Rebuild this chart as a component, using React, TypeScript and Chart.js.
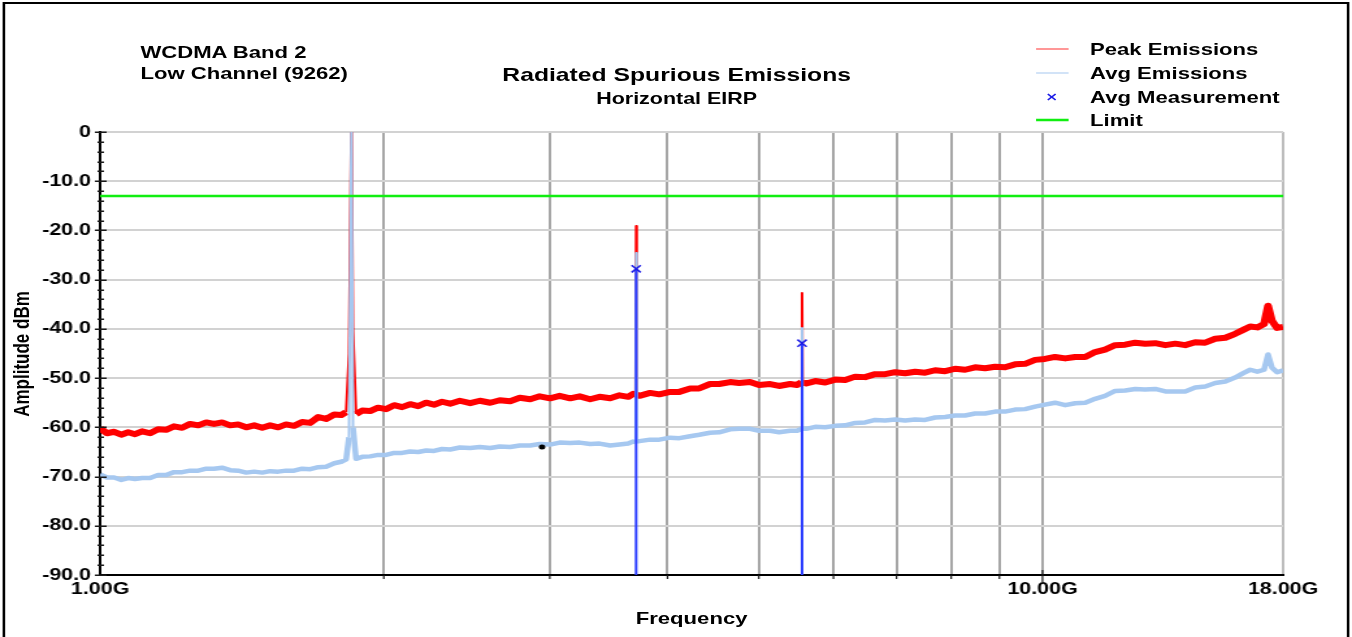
import { useEffect, useRef } from "react";
import { Chart, registerables } from "chart.js";

Chart.register(...registerables);

// Sweep frequencies (GHz) shared by both traces
const freqGHz = [
  1.0, 1.017, 1.035, 1.053, 1.071, 1.089, 1.108, 1.13, 1.152, 1.175,
  1.198, 1.222, 1.246, 1.271, 1.296, 1.321, 1.347, 1.374, 1.401, 1.429,
  1.457, 1.486, 1.515, 1.545, 1.575, 1.606, 1.638, 1.671, 1.704, 1.737,
  1.772, 1.802, 1.824, 1.837, 1.848, 1.855, 1.869, 1.897, 1.934, 1.972,
  2.011, 2.051, 2.091, 2.133, 2.175, 2.218, 2.261, 2.306, 2.352, 2.408,
  2.47, 2.529, 2.594, 2.655, 2.723, 2.788, 2.86, 2.927, 3.002, 3.073,
  3.153, 3.227, 3.311, 3.388, 3.477, 3.557, 3.634, 3.678, 3.7, 3.705,
  3.71, 3.735, 3.833, 3.921, 4.025, 4.117, 4.227, 4.322, 4.438, 4.538,
  4.661, 4.765, 4.893, 5.003, 5.14, 5.253, 5.397, 5.49, 5.55, 5.557,
  5.564, 5.614, 5.739, 5.88, 6.026, 6.174, 6.327, 6.483, 6.643, 6.808,
  6.976, 7.148, 7.325, 7.506, 7.691, 7.882, 8.076, 8.276, 8.481, 8.69,
  8.905, 9.126, 9.351, 9.583, 9.82, 10.06, 10.31, 10.57, 10.83, 11.1,
  11.37, 11.65, 11.94, 12.24, 12.54, 12.85, 13.17, 13.5, 13.83, 14.17,
  14.52, 14.88, 15.25, 15.63, 16.01, 16.33, 16.61, 16.9, 17.18, 17.35,
  17.52, 17.74, 18.0,
];

// Peak detector trace (dBm)
const peakDbm = [
  -60.2, -61.2, -60.9, -61.5, -61.0, -61.4, -60.8, -61.2, -60.4, -60.5,
  -59.8, -60.1, -59.3, -59.6, -59.0, -59.3, -59.0, -59.6, -59.4, -60.0,
  -59.6, -60.1, -59.6, -60.0, -59.4, -59.7, -58.9, -59.1, -57.9, -58.3,
  -57.4, -57.5, -56.9, -45.0, 5.0, -40.0, -57.3, -56.6, -56.7, -56.0,
  -56.3, -55.5, -55.9, -55.3, -55.7, -55.0, -55.4, -54.8, -55.2, -54.6,
  -55.1, -54.6, -55.0, -54.5, -54.7, -54.0, -54.3, -53.7, -54.1, -53.6,
  -54.1, -53.7, -54.3, -53.8, -54.1, -53.5, -53.8, -53.2, -53.5, -19.1,
  -53.3, -53.6, -53.0, -53.3, -52.8, -52.8, -52.1, -52.1, -51.2, -51.2,
  -50.8, -51.0, -50.8, -51.4, -51.2, -51.6, -51.2, -51.4, -50.8, -32.7,
  -50.9, -51.1, -50.6, -50.9, -50.3, -50.4, -49.7, -49.8, -49.2, -49.2,
  -48.8, -49.0, -48.7, -48.9, -48.4, -48.6, -48.1, -48.3, -47.8, -48.0,
  -47.7, -47.8, -47.2, -47.1, -46.3, -46.1, -45.7, -46.0, -45.7, -45.7,
  -44.7, -44.2, -43.3, -43.2, -42.8, -43.0, -42.9, -43.3, -43.0, -43.3,
  -42.7, -42.8, -42.0, -41.8, -41.0, -40.2, -39.5, -39.7, -39.0, -35.3,
  -38.4, -39.8, -39.6,
];

// Average detector trace (dBm)
const avgDbm = [
  -69.6, -70.2, -70.2, -70.7, -70.3, -70.5, -70.3, -70.3, -69.7, -69.7,
  -69.1, -69.1, -68.8, -68.8, -68.4, -68.4, -68.2, -68.7, -68.8, -69.2,
  -69.0, -69.2, -68.9, -69.0, -68.8, -68.8, -68.4, -68.5, -68.1, -68.0,
  -67.3, -67.0, -66.5, -62.0, 5.0, -60.0, -66.4, -66.0, -65.9, -65.6,
  -65.6, -65.2, -65.2, -64.9, -65.0, -64.7, -64.8, -64.4, -64.5, -64.1,
  -64.2, -64.0, -64.2, -63.9, -64.0, -63.7, -63.7, -63.4, -63.5, -63.1,
  -63.2, -63.1, -63.4, -63.3, -63.7, -63.5, -63.3, -62.9, -63.0, -24.6,
  -62.9, -62.8, -62.5, -62.5, -62.1, -62.2, -61.8, -61.5, -61.1, -61.0,
  -60.4, -60.3, -60.3, -60.7, -60.7, -61.0, -60.7, -60.7, -60.3, -39.8,
  -60.3, -60.3, -59.9, -60.0, -59.7, -59.6, -59.1, -59.0, -58.5, -58.6,
  -58.4, -58.6, -58.4, -58.5, -58.0, -57.9, -57.6, -57.6, -57.2, -57.2,
  -56.8, -56.8, -56.4, -56.3, -55.8, -55.4, -55.0, -55.5, -55.1, -55.0,
  -54.2, -53.6, -52.6, -52.5, -52.2, -52.3, -52.2, -52.7, -52.7, -52.7,
  -51.9, -51.7, -51.0, -50.7, -49.9, -49.0, -48.3, -48.7, -48.3, -45.2,
  -47.9, -48.8, -48.4,
];

// Final average measurements at the harmonics
const measFreqGHz = [3.705, 5.557];
const measDbm = [-27.8, -42.9];

// Marker on the average trace
const markerFreqGHz = [2.944];
const markerDbm = [-64.0];

const limitDbm = -13;

const xTickValues = [1, 2, 3, 4, 5, 6, 7, 8, 9, 10, 18];
const xTickLabels: Record<number, string> = { 1: "1.00G", 10: "10.00G", 18: "18.00G" };
const yTickValues = [0, -10, -20, -30, -40, -50, -60, -70, -80, -90];

const FONT = "'Liberation Sans', Arial, Helvetica, sans-serif";
const W = 1040;
const H = 637;
const STRETCH = 1.3;

const axisTicks = {
  id: "axisTicks",
  afterDraw(chart: any) {
    const { ctx, chartArea, scales } = chart;
    const { left, bottom } = chartArea;
    ctx.save();
    ctx.strokeStyle = "#1a1a1a";
    ctx.lineWidth = 1.5;
    for (let v = 0; v >= -90; v -= 2) {
      const py = Math.round(scales.y.getPixelForValue(v)) + 0.25;
      const major = v % 10 === 0;
      ctx.beginPath();
      ctx.moveTo(left - (major ? 4 : 2), py);
      ctx.lineTo(left + (major ? 5 : 3), py);
      ctx.stroke();
    }
    ctx.lineWidth = 1.2;
    for (const v of xTickValues) {
      if (v === 1 || v === 18) continue;
      const px = scales.x.getPixelForValue(v);
      const major = v === 10;
      ctx.beginPath();
      ctx.moveTo(px, bottom - (major ? 5 : 0));
      ctx.lineTo(px, bottom + (major ? 7 : 4));
      ctx.stroke();
    }
    ctx.restore();
  },
};

const spikeWidth = (thick: number) => (c: any) =>
  Math.abs(c.p1.parsed.y - c.p0.parsed.y) > 8 ? 2 : thick;

export default function App() {
  const ref = useRef<HTMLCanvasElement | null>(null);

  useEffect(() => {
    document.documentElement.style.overflow = "hidden";
    const canvas = ref.current;
    if (!canvas) return;

    const tickFont = { family: FONT, size: 16.5, weight: "bold" as const };

    const measLines = measFreqGHz.map((f, i) => ({
      label: "meas-line-" + i,
      data: [
        { x: f, y: measDbm[i] },
        { x: f, y: -90 },
      ],
      showLine: true,
      borderColor: "#2b3dff",
      borderWidth: 2,
      pointRadius: 0,
      order: 2,
      clip: 0,
    }));

    const chart = new Chart(canvas, {
      type: "scatter",
      data: {
        datasets: [
          {
            label: "Limit",
            data: [
              { x: 1, y: limitDbm },
              { x: 18, y: limitDbm },
            ],
            showLine: true,
            borderColor: "#11ee11",
            borderWidth: 2.5,
            pointRadius: 0,
            order: 0,
            clip: 0,
          },
          {
            label: "Avg Measurement",
            data: measFreqGHz.map((f, i) => ({ x: f, y: measDbm[i] })),
            showLine: false,
            pointStyle: "crossRot",
            pointRadius: 5,
            borderColor: "#1a1ae6",
            backgroundColor: "#1a1ae6",
            borderWidth: 1.5,
            order: 1,
          },
          ...measLines,
          {
            label: "marker",
            data: markerFreqGHz.map((f, i) => ({ x: f, y: markerDbm[i] })),
            showLine: false,
            pointRadius: 2.5,
            borderWidth: 0,
            backgroundColor: "#000000",
            order: 3,
          },
          {
            label: "Avg Emissions",
            data: freqGHz.map((f, i) => ({ x: f, y: avgDbm[i] })),
            showLine: true,
            borderColor: "#a6c8f0",
            borderWidth: 4.5,
            borderJoinStyle: "round",
            pointRadius: 0,
            segment: { borderWidth: spikeWidth(4.5) },
            order: 4,
            clip: 0,
          },
          {
            label: "Peak Emissions",
            data: freqGHz.map((f, i) => ({ x: f, y: peakDbm[i] })),
            showLine: true,
            borderColor: "#ff0000",
            borderWidth: 6,
            borderJoinStyle: "round",
            pointRadius: 0,
            segment: { borderWidth: spikeWidth(6) },
            order: 5,
            clip: 0,
          },
        ] as any,
      },
      options: {
        animation: false,
        responsive: false,
        devicePixelRatio: 1,
        events: [],
        layout: { padding: { left: 0, top: 132, right: 53, bottom: 0 } },
        plugins: {
          legend: { display: false },
          tooltip: { enabled: false },
          title: { display: false },
        },
        scales: {
          x: {
            type: "logarithmic",
            min: 1,
            max: 18,
            afterBuildTicks: (s: any) => {
              s.ticks = xTickValues.map((v) => ({ value: v }));
            },
            afterFit: (s: any) => {
              s.height = 62;
            },
            ticks: {
              autoSkip: false,
              maxRotation: 0,
              minRotation: 0,
              padding: 5,
              color: "#000",
              font: tickFont,
              callback: (v: any) => xTickLabels[Number(v)] ?? "",
            },
            grid: {
              drawTicks: false,
              lineWidth: 2,
              color: (c: any) => {
                const v = c.tick ? c.tick.value : 0;
                if (v === 1) return "rgba(0,0,0,0)";
                if (v === 18) return "#bdbdbd";
                return "#a6a6a6";
              },
            },
            border: { color: "#000", width: 2 },
          },
          y: {
            type: "linear",
            min: -90,
            max: 0,
            afterBuildTicks: (s: any) => {
              s.ticks = yTickValues.map((v) => ({ value: v }));
            },
            afterFit: (s: any) => {
              s.width = 77;
            },
            ticks: {
              padding: 7,
              color: "#000",
              font: tickFont,
              callback: (v: any) => (Number(v) === 0 ? "0" : Number(v).toFixed(1)),
            },
            grid: { drawTicks: false, color: "#d2d2d2", lineWidth: 2 },
            border: { color: "#000", width: 2 },
          },
        },
      } as any,
      plugins: [axisTicks],
    });

    return () => chart.destroy();
  }, []);

  const text = (size: number): React.CSSProperties => ({
    position: "absolute",
    fontFamily: FONT,
    fontWeight: "bold",
    fontSize: size,
    lineHeight: size + "px",
    color: "#000",
    whiteSpace: "nowrap",
  });

  const legendRows = [
    { label: "Peak Emissions", y: 49, kind: "line", color: "#ff3030", w: 1.2 },
    { label: "Avg Emissions", y: 73, kind: "line", color: "#a6c8f0", w: 1.2 },
    { label: "Avg Measurement", y: 97, kind: "cross", color: "#1a1ae6", w: 1.3 },
    { label: "Limit", y: 120, kind: "line", color: "#11ee11", w: 2.5 },
  ];

  return (
    <div
      style={{
        position: "absolute",
        left: 0,
        top: 0,
        width: W,
        height: H,
        overflow: "hidden",
        background: "#fff",
        transform: `scaleX(${STRETCH})`,
        transformOrigin: "0 0",
      }}
    >
      <canvas
        ref={ref}
        width={W}
        height={H}
        style={{ position: "absolute", left: 0, top: 0, width: W, height: H }}
      />
      <div
        style={{
          position: "absolute",
          left: 2,
          top: 2,
          width: 1036,
          height: 660,
          boxSizing: "border-box",
          border: "2px solid #000",
          pointerEvents: "none",
        }}
      />
      <div style={{ ...text(17), left: 108, top: 58 - 14.4 }}>WCDMA Band 2</div>
      <div style={{ ...text(17), left: 108, top: 79 - 14.4 }}>Low Channel (9262)</div>
      <div style={{ ...text(19), left: 0, width: 1041, textAlign: "center", top: 80.8 - 16.1 }}>
        Radiated Spurious Emissions
      </div>
      <div style={{ ...text(16.5), left: 0, width: 1041, textAlign: "center", top: 103.9 - 14 }}>
        Horizontal EIRP
      </div>
      {legendRows.map((r) => (
        <div key={r.label}>
          <svg
            width={30}
            height={12}
            style={{ position: "absolute", left: 797, top: r.y - 6.5 }}
          >
            {r.kind === "line" ? (
              <line x1={0} y1={6} x2={25} y2={6} stroke={r.color} strokeWidth={r.w} />
            ) : (
              <g stroke={r.color} strokeWidth={r.w}>
                <line x1={9} y1={3} x2={15} y2={9} />
                <line x1={15} y1={3} x2={9} y2={9} />
              </g>
            )}
          </svg>
          <div style={{ ...text(17), left: 838.5, top: r.y - 8.3 }}>{r.label}</div>
        </div>
      ))}
      <div
        style={{
          ...text(17),
          left: 17.1,
          top: 354,
          transform: "translate(-50%, -50%) rotate(-90deg)",
        }}
      >
        Amplitude dBm
      </div>
      <div style={{ ...text(17), left: 0, width: 1064, textAlign: "center", top: 609.6 }}>
        Frequency
      </div>
    </div>
  );
}
